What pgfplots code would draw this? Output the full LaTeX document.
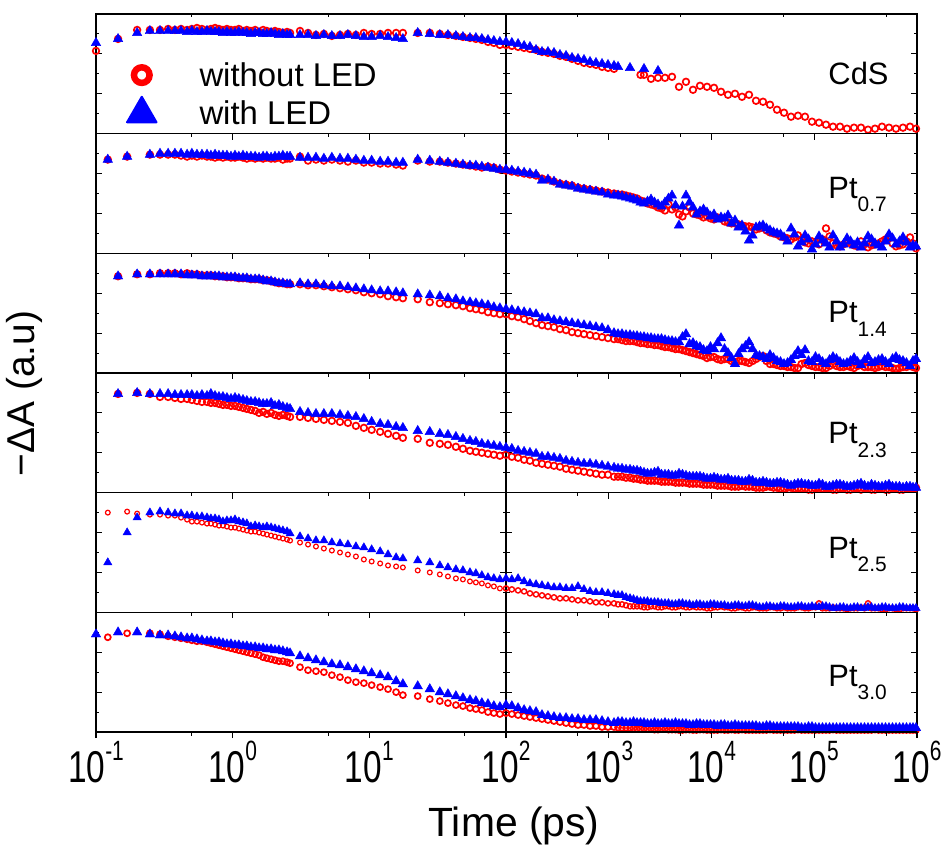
\documentclass[border=0pt]{standalone}
\usepackage{pgfplots}
\pgfplotsset{compat=1.18}
\usepackage{pgfplotstable}
\usepackage{fontspec}
\setmainfont{Liberation Sans}
\usepackage{graphicx}

\definecolor{ledred}{RGB}{255,0,0}
\definecolor{ledblue}{RGB}{0,0,255}

% transient absorption decays, 0.1 ps - 100 ps
% columns: r = without LED, b = with LED; 1 = CdS, 2 = Pt0.7, 3 = Pt1.4, 4 = Pt2.3, 5 = Pt2.5, 6 = Pt3.0
\pgfplotstableread{
t r1 b1 r2 b2 r3 b3 r4 b4 r5 b5 r6 b6
0.100 4.15 4.55 nan nan nan nan nan nan nan nan nan 4.9
0.122 nan nan 4.7 4.7 nan nan nan nan 5.0 2.5 4.75 nan
0.145 4.75 4.75 nan nan 4.85 4.85 4.95 4.95 nan nan nan 5.0
0.169 nan nan 4.85 4.85 nan nan nan nan 5.05 4.0 4.95 nan
0.200 5.2 5.05 nan nan 4.95 4.95 5.0 5.0 4.95 4.75 nan 5.0
0.248 5.2 5.15 4.95 4.95 4.95 4.95 4.95 4.95 4.9 5.0 4.95 4.9
0.294 5.2 5.15 4.95 5.0 5.0 4.95 4.8 4.95 4.9 5.05 4.9 4.85
0.337 5.25 5.15 4.95 5.0 5.0 4.95 4.8 4.95 4.85 5.0 4.8 4.85
0.378 5.2 5.15 4.95 5.0 5.0 4.95 4.75 4.9 4.85 4.95 4.75 4.8
0.419 5.25 5.15 4.9 5.0 4.95 4.95 4.7 4.9 4.75 4.95 4.7 4.75
0.464 5.2 5.1 4.85 4.95 5.0 4.9 4.7 4.9 4.65 4.85 4.65 4.7
0.503 5.25 5.15 4.9 5.0 4.95 4.9 4.65 4.9 4.55 4.85 4.6 4.7
0.548 5.3 5.1 4.85 4.95 4.95 4.9 4.6 4.85 4.55 4.8 4.55 4.65
0.596 5.25 5.1 4.9 4.95 4.9 4.85 4.55 4.9 4.5 4.8 4.55 4.6
0.649 5.2 5.15 4.85 4.95 4.9 4.85 4.55 4.85 4.45 4.75 4.5 4.55
0.693 5.25 5.1 4.85 4.9 4.9 4.85 4.5 4.95 4.45 4.7 4.45 4.55
0.743 5.3 5.1 4.8 4.95 4.85 4.85 4.5 4.85 4.4 4.7 4.4 4.5
0.794 5.25 5.1 4.85 4.9 4.85 4.85 4.45 4.8 4.35 4.65 4.35 4.5
0.849 5.2 5.05 4.8 4.9 4.85 4.8 4.4 4.8 4.35 4.55 4.3 4.45
0.908 5.25 5.1 4.85 4.9 4.8 4.8 4.4 4.75 4.3 4.6 4.25 4.4
0.972 5.2 5.05 4.8 4.85 4.8 4.8 4.35 4.7 4.25 4.6 4.2 4.4
1.04 5.2 5.05 4.8 4.9 4.8 4.8 4.35 4.75 4.25 4.65 4.15 4.35
1.11 5.25 5.1 4.85 4.85 4.75 4.75 4.3 4.7 4.2 4.55 4.1 4.35
1.19 5.15 5.05 4.8 4.9 4.75 4.75 4.25 4.65 4.15 4.5 4.05 4.3
1.27 5.2 5.05 4.75 4.85 4.75 4.75 4.2 4.6 4.1 4.45 4.0 4.3
1.36 5.15 5.0 4.8 4.85 4.7 4.7 4.15 4.55 4.05 4.3 3.95 4.25
1.46 5.2 5.05 4.75 4.85 4.7 4.7 4.1 4.55 4.05 4.35 3.9 4.25
1.56 5.1 5.05 4.8 4.8 4.7 4.7 4.0 4.5 4.0 4.3 3.85 4.2
1.67 5.2 5.0 4.75 4.85 4.65 4.65 4.05 4.45 3.95 4.25 3.75 4.2
1.78 5.15 5.0 4.8 4.85 4.65 4.6 3.95 4.45 3.9 4.3 3.7 4.15
1.91 5.1 5.05 4.75 4.8 4.6 4.6 4.0 4.5 3.85 4.25 3.65 4.15
2.04 5.15 5.0 4.75 4.85 4.55 4.55 3.9 4.35 3.8 4.2 3.6 4.1
2.18 5.1 4.95 4.8 4.85 4.5 4.5 3.85 4.4 3.75 4.15 3.55 4.1
2.33 5.05 5.0 4.7 4.9 4.5 4.5 3.9 4.3 3.7 4.1 3.55 4.05
2.50 5.1 4.95 4.75 4.85 4.45 4.45 3.85 4.25 3.65 4.05 3.5 4.0
2.63 5.05 4.95 4.75 4.85 4.45 4.45 3.8 4.2 3.6 3.95 3.45 3.95
3.11 5.15 4.95 4.85 4.8 4.45 4.5 3.8 4.05 3.5 3.8 3.25 3.8
3.56 5.05 4.95 4.65 4.8 4.4 4.45 3.75 4.0 3.4 3.7 3.1 3.7
4.07 4.95 4.9 4.7 4.8 4.4 4.45 3.7 3.95 3.3 3.6 3.05 3.6
4.65 5.0 4.95 4.65 4.75 4.35 4.4 3.65 3.95 3.2 3.6 3.0 3.5
5.32 4.9 4.9 4.7 4.8 4.3 4.35 3.6 3.95 3.1 3.5 2.85 3.4
6.10 4.95 4.9 4.65 4.75 4.25 4.35 3.55 3.9 3.0 3.45 2.75 3.35
6.97 5.0 4.95 4.6 4.75 4.2 4.3 3.5 3.85 2.9 3.4 2.6 3.25
7.98 4.95 4.9 4.65 4.7 4.15 4.25 3.35 3.8 2.8 3.3 2.5 3.15
9.12 5.05 4.85 4.55 4.65 4.05 4.2 3.25 3.7 2.65 3.25 2.45 3.05
10.4 5.0 4.85 4.55 4.65 4.0 4.15 3.15 3.55 2.55 3.15 2.35 2.95
12.0 5.0 4.9 4.5 4.6 3.95 4.1 3.05 3.45 2.45 3.05 2.25 2.85
13.7 5.05 4.85 4.5 4.6 3.85 4.1 2.95 3.4 2.35 2.9 2.15 2.75
15.7 5.05 4.8 4.45 4.55 3.8 4.05 2.85 3.3 2.3 2.75 2.0 2.55
17.6 5.05 4.75 4.4 4.55 3.75 4.0 2.75 3.25 2.25 2.7 1.85 2.4
22.6 5.05 5.05 4.65 4.7 3.7 3.95 2.7 3.1 2.1 2.6 1.8 2.3
27.7 5.05 5.0 4.6 4.65 3.55 3.9 2.5 3.05 2.0 2.5 1.65 2.15
32.8 5.0 4.95 4.6 4.6 3.5 3.85 2.45 2.95 1.9 2.35 1.55 2.0
37.6 4.95 4.95 4.55 4.55 3.45 3.75 2.4 2.9 1.8 2.25 1.45 1.9
43.0 4.9 4.9 4.5 4.5 3.4 3.7 2.3 2.8 1.7 2.15 1.35 1.8
48.4 4.85 4.85 4.45 4.45 3.35 3.6 2.2 2.7 1.65 2.1 1.3 1.7
54.5 4.8 4.8 4.4 4.4 3.25 3.55 2.1 2.6 1.55 2.0 1.2 1.6
60.2 4.75 4.8 4.35 4.4 3.2 3.5 2.05 2.55 1.5 1.95 1.15 1.55
66.6 4.7 4.75 4.3 4.35 3.15 3.45 2.0 2.45 1.45 1.85 1.1 1.45
73.8 4.6 4.7 4.35 4.3 3.05 3.4 1.95 2.4 1.35 1.75 1.0 1.4
81.5 4.55 4.65 4.3 4.25 3.0 3.3 1.9 2.35 1.3 1.7 0.95 1.3
90.2 4.45 4.6 4.2 4.2 2.95 3.25 1.85 2.3 1.2 1.65 0.9 1.25
}\earlytab

% the same decays, 100 ps - 1 us
\pgfplotstableread{
t r1 b1 r2 b2 r3 b3 r4 b4 r5 b5 r6 b6
100 4.45 4.6 4.15 4.2 2.95 3.2 1.9 2.25 1.2 1.7 0.95 1.35
114 4.4 4.55 4.1 4.15 2.85 3.15 1.8 2.2 1.15 1.65 0.9 1.3
131 4.35 4.5 4.05 4.1 2.8 3.1 1.75 2.1 1.1 1.7 0.85 1.2
150 4.3 4.4 4.0 4.05 2.7 3.05 1.65 2.05 1.05 1.55 0.8 1.1
171 4.25 4.35 3.95 4.0 2.6 3.0 1.6 2.0 0.95 1.45 0.75 1.05
196 4.2 4.2 3.9 3.95 2.5 2.95 1.5 1.95 0.9 1.4 0.7 1.0
224 4.1 4.1 3.75 3.65 2.4 2.75 1.45 1.8 0.85 1.35 0.65 0.85
256 4.05 4.1 3.7 3.7 2.35 2.75 1.4 1.8 0.8 1.3 0.6 0.8
293 4.0 4.05 3.6 3.6 2.3 2.65 1.35 1.75 0.75 1.25 0.55 0.75
335 3.9 3.95 3.5 3.45 2.2 2.6 1.3 1.7 0.7 1.25 0.5 0.7
384 3.85 3.9 3.45 3.4 2.15 2.55 1.2 1.6 0.7 1.2 0.45 0.7
439 3.75 3.8 3.4 3.35 2.05 2.5 1.15 1.55 0.65 1.2 0.4 0.65
502 3.65 3.75 3.3 3.25 2.0 2.45 1.1 1.5 0.6 1.3 0.35 0.65
574 3.55 3.7 3.25 3.2 1.95 2.4 1.05 1.45 0.6 1.15 0.35 0.6
657 3.5 3.6 3.2 3.15 1.9 2.35 1.0 1.45 0.55 1.05 0.3 0.6
751 3.45 3.55 3.15 3.1 1.85 2.3 0.95 1.4 0.5 1.0 0.3 0.6
860 3.35 3.5 3.1 3.05 1.8 2.25 0.9 1.35 0.5 1.0 0.25 0.55
983 3.3 3.45 3.05 2.95 1.75 2.15 0.9 1.3 0.45 0.95 0.25 0.5
1125 3.25 3.4 3.0 2.9 1.7 2.0 0.8 1.25 0.45 0.9 0.25 0.45
1346 nan nan 2.95 2.85 1.65 1.95 0.8 1.2 0.4 0.85 0.2 0.5
1610 nan 3.3 2.85 2.75 1.6 1.9 0.75 1.15 0.3 0.7 0.2 0.45
1884 nan nan 2.75 2.65 1.55 1.85 0.7 1.1 0.3 0.6 0.15 0.45
2203 2.95 3.25 2.6 2.5 1.5 1.8 0.65 1.0 0.25 0.55 0.15 0.45
2578 2.75 nan 2.45 2.7 1.45 1.75 0.6 0.95 0.3 0.5 0.15 0.4
3015 2.8 3.15 2.3 2.45 1.4 1.7 0.6 1.05 0.25 0.5 0.12 0.4
3527 2.8 nan 2.15 2.55 1.3 1.65 0.55 0.9 0.3 0.45 0.15 0.45
4127 2.85 nan 2.2 2.9 1.25 1.6 0.55 0.85 0.25 0.4 0.12 0.4
4827 2.35 nan 1.95 1.4 1.2 1.55 0.5 0.95 0.3 0.45 0.1 0.4
5646 2.6 nan 2.1 2.9 1.1 1.95 0.5 0.85 0.25 0.4 0.12 0.4
6607 2.2 nan 2.0 2.3 1.0 1.5 0.45 0.8 0.3 0.35 0.1 0.35
7728 2.4 nan 1.9 2.1 0.9 1.3 0.45 0.8 0.25 0.4 0.12 0.4
9042 2.35 nan 1.85 2.05 0.75 1.1 0.4 0.7 0.2 0.35 0.1 0.35
10576 2.3 nan 1.7 1.95 0.8 1.2 0.4 0.75 0.25 0.4 0.1 0.35
12374 2.1 nan 1.75 1.8 0.65 1.75 0.35 0.65 0.3 0.35 0.12 0.35
14475 1.95 nan 1.55 1.9 0.7 1.0 0.35 0.7 0.25 0.3 0.1 0.3
16932 2.0 nan 1.5 1.65 0.55 0.45 0.3 0.6 0.2 0.35 0.1 0.35
19812 1.85 nan 1.4 1.4 0.6 1.2 0.35 0.55 0.25 0.3 0.12 0.3
23175 1.95 nan 1.35 0.65 0.5 1.55 0.3 0.65 0.2 0.35 0.1 0.3
27112 1.65 nan 1.2 1.3 0.7 0.9 0.25 0.5 0.25 0.3 0.1 0.3
31715 1.6 nan 1.3 1.4 0.85 0.8 0.25 0.55 0.2 0.25 0.1 0.25
37103 1.45 nan 1.05 1.15 0.45 0.9 0.3 0.45 0.25 0.3 0.12 0.3
43411 1.2 nan 0.95 1.0 0.4 0.6 0.25 0.5 0.2 0.25 0.1 0.25
50782 1.05 nan 0.8 0.8 0.35 0.45 0.2 0.45 0.25 0.3 0.1 0.25
59405 0.85 nan 0.7 1.25 0.3 0.65 0.25 0.35 0.2 0.25 0.1 0.25
69491 0.9 nan 0.9 0.35 0.25 1.1 0.2 0.45 0.25 0.3 0.12 0.25
81290 0.85 nan 0.55 0.9 0.5 1.15 0.2 0.4 0.2 0.25 0.1 0.2
95080 0.6 nan 0.6 0.2 0.35 0.55 0.15 0.35 0.25 0.3 0.1 0.25
111230 0.55 nan 0.45 0.85 0.3 0.7 0.25 0.45 0.45 0.25 0.1 0.2
130120 0.45 nan 1.25 0.5 0.25 0.45 0.2 0.3 0.2 0.3 0.1 0.2
152200 0.35 nan 0.5 0.9 0.45 0.8 0.15 0.35 0.25 0.2 0.12 0.2
178100 0.35 nan 0.35 0.3 0.3 0.55 0.2 0.4 0.2 0.25 0.1 0.2
208300 0.25 nan 0.55 0.75 0.35 0.5 0.15 0.3 0.15 0.2 0.1 0.2
243800 0.3 nan 0.4 0.4 0.25 0.75 0.2 0.35 0.2 0.25 0.1 0.2
285100 0.3 nan 0.6 0.3 0.4 0.4 0.15 0.45 0.25 0.2 0.1 0.2
333600 0.2 nan 0.3 0.85 0.3 0.8 0.2 0.3 0.45 0.25 0.1 0.2
390200 0.25 nan 0.45 0.5 0.25 0.55 0.15 0.35 0.2 0.2 0.12 0.2
456500 0.35 nan 0.6 0.3 0.35 0.7 0.2 0.3 0.15 0.25 0.1 0.2
534000 0.3 nan 0.85 0.95 0.3 0.45 0.15 0.4 0.2 0.2 0.1 0.2
624600 0.25 nan 0.35 0.45 0.2 0.8 0.2 0.3 0.15 0.2 0.1 0.2
730600 0.3 nan 0.45 0.8 0.3 0.6 0.15 0.25 0.2 0.25 0.1 0.2
854800 0.35 nan 0.8 0.3 0.35 0.35 0.2 0.3 0.2 0.2 0.1 0.2
977900 0.25 nan 0.25 0.35 0.25 0.7 0.25 0.25 0.15 0.2 0.1 0.2
1231 nan 3.35 2.95 2.9 1.7 1.95 0.8 1.2 0.4 0.85 0.22 0.5
1472 nan nan 2.9 2.8 1.6 1.9 0.75 1.15 0.35 0.75 0.2 0.45
1742 nan nan 2.8 2.7 1.6 1.85 0.7 1.1 0.3 0.65 0.18 0.5
2037 2.95 nan 2.65 2.55 1.5 1.8 0.65 1.05 0.3 0.55 0.15 0.45
2383 nan nan 2.5 2.6 1.45 1.75 0.6 0.95 0.25 0.55 0.15 0.4
2788 nan nan 2.4 2.55 1.4 1.7 0.6 1.0 0.3 0.5 0.12 0.45
3261 nan nan 2.25 2.35 1.35 1.7 0.55 0.9 0.25 0.45 0.15 0.4
3815 nan nan 2.45 2.75 1.3 1.6 0.55 0.9 0.3 0.45 0.12 0.4
4463 nan nan 2.3 2.4 1.2 1.55 0.5 0.85 0.25 0.4 0.12 0.45
5220 nan nan 1.85 2.35 1.15 1.8 0.5 0.9 0.3 0.45 0.1 0.4
6108 nan nan 2.3 2.55 1.05 1.45 0.45 0.8 0.25 0.4 0.12 0.35
7146 nan nan 1.95 1.95 0.95 1.35 0.45 0.8 0.25 0.4 0.1 0.4
8359 nan nan 1.8 2.2 0.85 1.15 0.4 0.75 0.25 0.35 0.12 0.35
9779 nan nan 1.75 1.85 0.8 1.3 0.4 0.7 0.2 0.4 0.1 0.35
11440 nan nan 1.8 1.7 0.7 1.5 0.35 0.7 0.25 0.35 0.1 0.3
13383 nan nan 1.6 1.75 0.7 1.2 0.35 0.65 0.25 0.35 0.1 0.35
15655 nan nan 1.5 1.5 0.6 0.75 0.3 0.6 0.2 0.3 0.12 0.3
18316 nan nan 1.45 1.3 0.6 0.95 0.3 0.6 0.25 0.35 0.1 0.3
21428 nan nan 1.35 1.1 0.55 1.35 0.3 0.55 0.2 0.3 0.1 0.3
25067 nan nan 1.3 0.9 0.6 1.2 0.3 0.6 0.25 0.35 0.1 0.3
29324 nan nan 1.25 1.35 0.8 0.85 0.25 0.5 0.2 0.25 0.1 0.25
34304 nan nan 1.15 1.25 0.6 0.7 0.3 0.5 0.2 0.3 0.1 0.3
40133 nan nan 1.0 1.05 0.45 0.75 0.25 0.45 0.25 0.25 0.1 0.25
46952 nan nan 0.85 0.95 0.35 0.55 0.2 0.5 0.2 0.3 0.1 0.25
54925 nan nan 0.75 0.6 0.3 0.5 0.25 0.4 0.2 0.25 0.1 0.25
64251 nan nan 0.8 0.95 0.25 0.85 0.2 0.4 0.2 0.25 0.1 0.25
75160 nan nan 0.7 0.55 0.45 0.9 0.2 0.45 0.25 0.3 0.1 0.2
87916 nan nan 0.5 0.7 0.4 0.6 0.15 0.4 0.2 0.25 0.1 0.25
102840 nan nan 0.55 0.45 0.3 0.8 0.2 0.35 0.25 0.25 0.1 0.2
120300 nan nan 0.7 0.65 0.25 0.55 0.2 0.4 0.2 0.3 0.1 0.2
140730 nan nan 0.85 0.3 0.35 0.65 0.2 0.3 0.2 0.25 0.1 0.2
164640 nan nan 0.4 0.6 0.35 0.7 0.15 0.4 0.2 0.2 0.1 0.2
192610 nan nan 0.45 0.45 0.3 0.45 0.2 0.35 0.2 0.25 0.1 0.2
225350 nan nan 0.5 0.6 0.3 0.6 0.15 0.3 0.2 0.2 0.1 0.2
263640 nan nan 0.35 0.55 0.35 0.55 0.2 0.4 0.2 0.25 0.1 0.2
308400 nan nan 0.45 0.5 0.3 0.65 0.2 0.35 0.2 0.2 0.1 0.2
360780 nan nan 0.4 0.7 0.3 0.5 0.15 0.4 0.2 0.25 0.1 0.2
422040 nan nan 0.5 0.4 0.3 0.65 0.2 0.3 0.2 0.2 0.1 0.2
493730 nan nan 0.7 0.6 0.3 0.55 0.15 0.35 0.15 0.25 0.1 0.2
577520 nan nan 0.5 0.75 0.25 0.7 0.2 0.3 0.2 0.2 0.1 0.2
675530 nan nan 0.4 0.6 0.25 0.65 0.15 0.3 0.15 0.25 0.1 0.2
790240 nan nan 0.6 0.55 0.3 0.5 0.2 0.3 0.2 0.2 0.1 0.2
914290 nan nan 0.5 0.4 0.3 0.6 0.2 0.25 0.2 0.2 0.1 0.2
}\latetab

% tick label 10^n in a narrow face
\newcommand{\tenpow}[1]{\scalebox{0.75}[1]{\fontsize{44.7}{44.7}\selectfont 10\raisebox{22bp}{\fontsize{28}{28}\selectfont #1}}}
\newcommand{\ptlab}[1]{Pt\raisebox{-13.4bp}{\fontsize{21}{21}\selectfont #1}}

\pgfplotsset{
  tapanel/.style={
    scale only axis, height=119.667bp,
    ymin=0, ymax=6,
    ytick={2,4}, minor ytick={1,3,5}, yticklabels={},
    xtick pos=right, tick align=inside,
    major tick length=6bp, minor tick length=3.5bp,
    every tick/.append style={black, line width=1.1bp},
    axis line style={black, line width=1.3bp},
  },
  earlypart/.style={tapanel, width=410bp, xmin=0.1, xmax=100,
    xtick={0.1,1,10,100}, minor xtick={0.5,5,50}, xticklabels={}},
  latepart/.style={tapanel, width=411bp, xmin=100, xmax=1000000,
    xtick={100,1000,10000,100000,1000000},
    minor xtick={500,5000,50000,500000}, xticklabels={}},
  toprow/.style={xmajorticks=false, xminorticks=false},
  bottomrow/.style={xticklabel pos=left, xticklabel style={anchor=base, yshift=-50bp}},
  bottomticks/.style={scale only axis, height=119.667bp, ymin=0, ymax=6,
    axis y line=none, axis x line*=bottom, x axis line style={-},
    xticklabels={}, tick align=outside,
    major tick length=6bp, minor tick length=3.5bp,
    every tick/.append style={black, line width=1.1bp},
    axis line style={black, line width=1.3bp}},
  redmk/.style={only marks, mark=o, mark size=3.3bp, draw=ledred,
    mark options={line width=1.7bp, draw=ledred}},
  bluemk/.style={only marks, mark=triangle*, mark size=5.5bp,
    mark options={draw=ledblue, fill=ledblue, line width=0.4bp}},
}
\tikzset{labnode/.style={anchor=base west, font=\fontsize{31}{31}\selectfont}}

\begin{document}
\begin{tikzpicture}
\path[use as bounding box] (-96bp,-114bp) rectangle (853bp,732bp);

% ---- CdS ----
\begin{axis}[xmode=log, earlypart, toprow, anchor=south west, at={(0bp,598.333bp)},
  legend style={at={(0.068,0.63)}, anchor=north west, draw=none, fill=none,
    font=\fontsize{33}{33}\selectfont, row sep=7bp,
    /tikz/every odd column/.append style={column sep=41bp}},
  legend cell align=left]
\addplot[redmk, forget plot] table[x=t, y=r1] {\earlytab};
\addplot[bluemk, forget plot] table[x=t, y=b1] {\earlytab};
\addlegendimage{only marks, mark=o, mark size=7.8bp, draw=ledred,
  mark options={line width=6.5bp, draw=ledred}}
\addlegendentry{without LED}
\addlegendimage{only marks, mark=triangle*, mark size=17bp,
  mark options={draw=ledblue, fill=ledblue, line width=2bp, line join=round}}
\addlegendentry{with LED}
\end{axis}
\begin{axis}[xmode=log, latepart, toprow, anchor=south west, at={(410bp,598.333bp)}]
\addplot[redmk] table[x=t, y=r1] {\latetab};
\addplot[bluemk] table[x=t, y=b1] {\latetab};
\node[labnode] at (rel axis cs:0.776,0.41) {CdS};
\end{axis}

% ---- Pt 0.7 ----
\begin{axis}[xmode=log, earlypart, anchor=south west, at={(0bp,478.667bp)}]
\addplot[redmk] table[x=t, y=r2] {\earlytab};
\addplot[bluemk] table[x=t, y=b2] {\earlytab};
\end{axis}
\begin{axis}[xmode=log, latepart, anchor=south west, at={(410bp,478.667bp)}]
\addplot[redmk] table[x=t, y=r2] {\latetab};
\addplot[bluemk] table[x=t, y=b2] {\latetab};
\node[labnode] at (rel axis cs:0.776,0.46) {\ptlab{0.7}};
\end{axis}

% ---- Pt 1.4 ----
\begin{axis}[xmode=log, earlypart, anchor=south west, at={(0bp,359bp)}]
\addplot[redmk] table[x=t, y=r3] {\earlytab};
\addplot[bluemk] table[x=t, y=b3] {\earlytab};
\end{axis}
\begin{axis}[xmode=log, latepart, anchor=south west, at={(410bp,359bp)}]
\addplot[redmk] table[x=t, y=r3] {\latetab};
\addplot[bluemk] table[x=t, y=b3] {\latetab};
\node[labnode] at (rel axis cs:0.776,0.42) {\ptlab{1.4}};
\end{axis}

% ---- Pt 2.3 ----
\begin{axis}[xmode=log, earlypart, anchor=south west, at={(0bp,239.333bp)}]
\addplot[redmk] table[x=t, y=r4] {\earlytab};
\addplot[bluemk] table[x=t, y=b4] {\earlytab};
\end{axis}
\begin{axis}[xmode=log, latepart, anchor=south west, at={(410bp,239.333bp)}]
\addplot[redmk] table[x=t, y=r4] {\latetab};
\addplot[bluemk] table[x=t, y=b4] {\latetab};
\node[labnode] at (rel axis cs:0.776,0.41) {\ptlab{2.3}};
\end{axis}

% ---- Pt 2.5 ----
\begin{axis}[xmode=log, earlypart, anchor=south west, at={(0bp,119.667bp)}]
\addplot[redmk, mark size=2.4bp, mark options={line width=1.2bp, draw=ledred}] table[x=t, y=r5] {\earlytab};
\addplot[bluemk, mark size=4.8bp] table[x=t, y=b5] {\earlytab};
\end{axis}
\begin{axis}[xmode=log, latepart, anchor=south west, at={(410bp,119.667bp)}]
\addplot[redmk, mark size=2.6bp, mark options={line width=1.4bp, draw=ledred}] table[x=t, y=r5] {\latetab};
\addplot[bluemk, mark size=4.8bp] table[x=t, y=b5] {\latetab};
\node[labnode] at (rel axis cs:0.776,0.45) {\ptlab{2.5}};
\end{axis}

% ---- Pt 3.0 ----
\begin{axis}[xmode=log, earlypart, bottomrow, anchor=south west, at={(0bp,0bp)},
  xticklabels={\tenpow{-1},\tenpow{0},\tenpow{1},\tenpow{2}}]
\addplot[redmk, mark size=3bp] table[x=t, y=r6] {\earlytab};
\addplot[bluemk] table[x=t, y=b6] {\earlytab};
\end{axis}
\begin{axis}[xmode=log, latepart, bottomrow, anchor=south west, at={(410bp,0bp)},
  xticklabels={,\tenpow{3},\tenpow{4},\tenpow{5},\tenpow{6}}]
\addplot[redmk, mark size=3bp] table[x=t, y=r6] {\latetab};
\addplot[bluemk] table[x=t, y=b6] {\latetab};
\node[labnode] at (rel axis cs:0.776,0.38) {\ptlab{3.0}};
\end{axis}

% outward ticks along the time axis
\begin{axis}[xmode=log, bottomticks, width=410bp, anchor=south west, at={(0bp,0bp)},
  xmin=0.1, xmax=100, xtick={0.1,1,10,100}, minor xtick={0.5,5,50}]
\end{axis}
\begin{axis}[xmode=log, bottomticks, width=411bp, anchor=south west, at={(410bp,0bp)},
  xmin=100, xmax=1000000, xtick={100,1000,10000,100000,1000000},
  minor xtick={500,5000,50000,500000}]
\end{axis}

% shared axis titles
\node[rotate=90, font=\fontsize{39}{39}\selectfont] at (-72bp,338.5bp) {−ΔA (a.u)};
\node[anchor=base, font=\fontsize{41}{41}\selectfont] at (418bp,-104bp) {Time (ps)};
\end{tikzpicture}
\end{document}
